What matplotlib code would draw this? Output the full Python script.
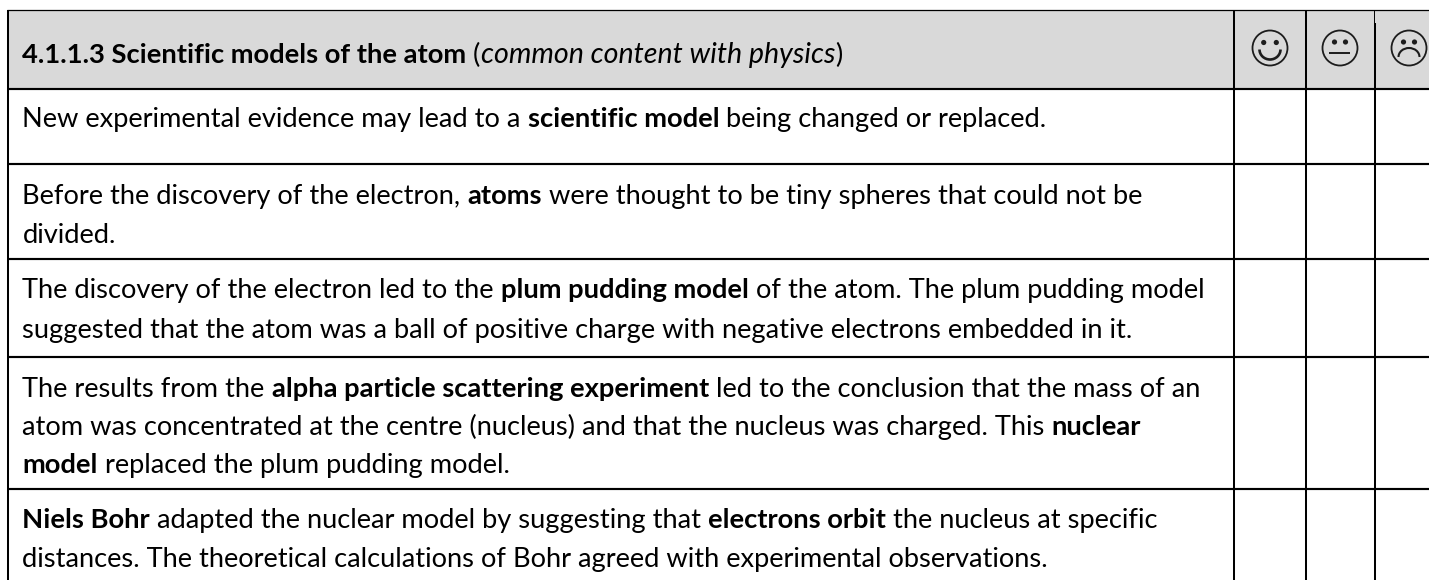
import matplotlib
matplotlib.use('Agg')
from matplotlib import pyplot as plt
from matplotlib.patches import Rectangle, Circle, Arc

plt.rcParams['font.family'] = ['Lato', 'DejaVu Sans']

W, H = 1429, 580
BODY_SIZE = 19.65
SIZES = {'n': BODY_SIZE, 'b': 19.75, 'i': 20.6}
INK = '#1c1c1c'

# each line is a list of (text, style) runs, style: n normal, b bold, i italic
header = [('4.1.1.3 Scientific models of the atom ', 'b'), ('(', 'n'),
          ('common content with physics', 'i'), (')', 'n')]
row1 = [[('New experimental evidence may lead to a ', 'n'), ('scientific model', 'b'),
         (' being changed or replaced.', 'n')]]
row2 = [[('Before the discovery of the electron, ', 'n'), ('atoms', 'b'),
         (' were thought to be tiny spheres that could not be', 'n')],
        [('divided.', 'n')]]
row3 = [[('The discovery of the electron led to the ', 'n'), ('plum pudding model', 'b'),
         (' of the atom. The plum pudding model', 'n')],
        [('suggested that the atom was a ball of positive charge with negative electrons embedded in it.', 'n')]]
row4 = [[('The results from the ', 'n'), ('alpha particle scattering experiment', 'b'),
         (' led to the conclusion that the mass of an', 'n')],
        [('atom was concentrated at the centre (nucleus) and that the nucleus was charged. This ', 'n'),
         ('nuclear', 'b')],
        [('model', 'b'), (' replaced the plum pudding model.', 'n')]]
row5 = [[('Niels Bohr', 'b'), (' adapted the nuclear model by suggesting that ', 'n'),
         ('electrons orbit', 'b'), (' the nucleus at specific', 'n')],
        [('distances. The theoretical calculations of Bohr agreed with experimental observations.', 'n')]]

line_x = [8, 1234, 1306, 1375]
line_y = [10, 89, 164, 259, 357, 489]

fig = plt.figure(figsize=(W / 100, H / 100), dpi=100)
ax = fig.add_axes([0, 0, 1, 1])
ax.set_xlim(0, W)
ax.set_ylim(H, 0)
ax.axis('off')


def draw_runs(runs, x, y):
    r = fig.canvas.get_renderer()
    for s, style in runs:
        t = ax.text(x, y, s, fontsize=SIZES[style], color='black', va='baseline', ha='left',
                    fontweight='bold' if style == 'b' else 'normal',
                    fontstyle='italic' if style == 'i' else 'normal')
        x += t.get_window_extent(r).width


def face(cx, cy, kind):
    ax.add_patch(Circle((cx, cy), 17.5, fill=False, ec=INK, lw=1.3))
    if kind == 'happy':
        eye_dx, eye_y = 6.3, cy - 5.5
        ax.add_patch(Arc((cx, cy + 1.5), 21, 20, theta1=0, theta2=180, ec=INK, lw=1.9))
    elif kind == 'neutral':
        eye_dx, eye_y = 5.5, cy - 6
        ax.plot([cx - 10.5, cx + 10.5], [cy + 5, cy + 5], color=INK, lw=1.4, solid_capstyle='butt')
    else:
        eye_dx, eye_y = 5.5, cy - 6
        ax.add_patch(Arc((cx, cy + 9), 21, 18, theta1=180, theta2=360, ec=INK, lw=1.5))
    ax.add_patch(Circle((cx - eye_dx, eye_y), 2.6, color=INK, lw=0))
    ax.add_patch(Circle((cx + eye_dx, eye_y), 2.6, color=INK, lw=0))


ax.add_patch(Rectangle((line_x[0], line_y[0]), W - line_x[0], line_y[1] - line_y[0],
                       fc='#d9d9d9', ec='none'))

for yy in line_y[1:]:
    ax.plot([line_x[0], W], [yy, yy], color='black', lw=1.55, solid_capstyle='butt')
ax.plot([line_x[0] - 1, W], [line_y[0], line_y[0]], color='black', lw=0.9, solid_capstyle='butt')
for xx in line_x[:3]:
    ax.plot([xx, xx], [line_y[0], H], color='black', lw=1.45, solid_capstyle='butt')
# last divider is thin and a pixel to the left at the very top
ax.plot([line_x[3] - 1, line_x[3] - 1], [line_y[0], 23], color='black', lw=0.7, solid_capstyle='butt')
ax.plot([line_x[3], line_x[3]], [23, H], color='black', lw=1.45, solid_capstyle='butt')

draw_runs(header, 22.5, 63)
text_rows = [(row1, [127]), (row2, [204, 243]), (row3, [298, 338]), (row4, [397, 435, 473]),
             (row5, [528, 567])]
for lines, ys in text_rows:
    for runs, y in zip(lines, ys):
        draw_runs(runs, 22.5, y)

face(1270, 48, 'happy')
face(1340, 48, 'neutral')
face(1409, 48, 'sad')

fig.savefig('out.png', dpi=100)
